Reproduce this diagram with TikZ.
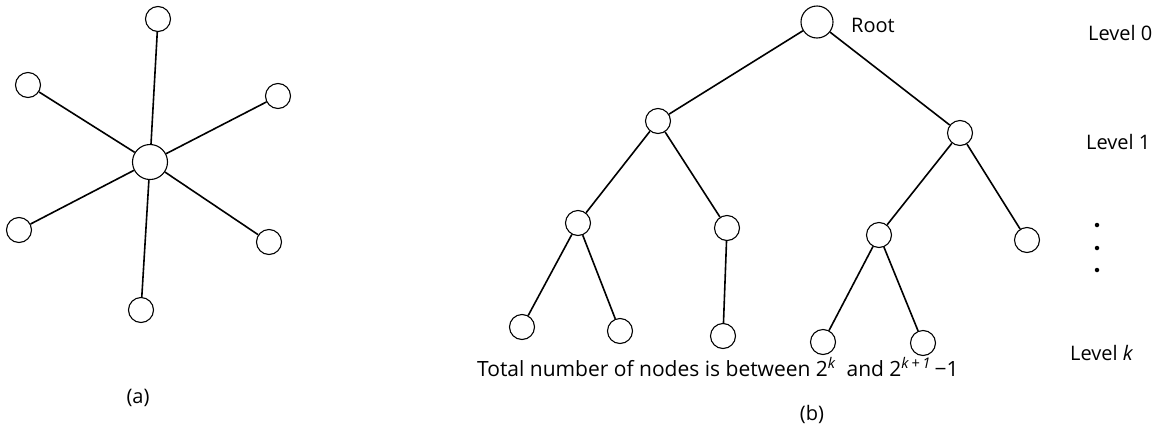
\documentclass[tikz,border=0pt]{standalone}
\usepackage{fontspec}
\setmainfont{Open Sans}
\begin{document}
\begin{tikzpicture}[x=1pt,y=-1pt,
  vtx/.style={circle,draw,line width=1.1pt,inner sep=0pt,minimum size=25pt},
  hub/.style={circle,draw,line width=1.1pt,inner sep=0pt,minimum size=35pt},
  rootv/.style={circle,draw,line width=1.1pt,inner sep=0pt,minimum size=32pt},
  edge/.style={line width=1.6pt},
  lbl/.style={inner sep=0pt,font=\fontsize{20}{24}\selectfont},
  dotv/.style={circle,fill,inner sep=0pt,minimum size=4.5pt}]
\useasboundingbox (0,0) rectangle (1165,429);
% (a) star
\node[hub] (c) at (150,162) {};
\node[vtx] (s1) at (158,19) {};
\node[vtx] (s2) at (28,85) {};
\node[vtx] (s3) at (278,96) {};
\node[vtx] (s4) at (19,230) {};
\node[vtx] (s5) at (269,242) {};
\node[vtx] (s6) at (141,310) {};
\foreach \s in {s1,s2,s3,s4,s5,s6} \draw[edge] (c) -- (\s);
\node[lbl] (la) at (138,398) {(a)};
% (b) tree
\node[rootv] (r) at (817,22) {};
\node[vtx] (a1) at (658,121) {};
\node[vtx] (a2) at (960,133) {};
\node[vtx] (b1) at (578,223) {};
\node[vtx] (b2) at (727,228) {};
\node[vtx] (b3) at (879,235) {};
\node[vtx] (b4) at (1027,240) {};
\node[vtx] (c1) at (522,327) {};
\node[vtx] (c2) at (620,331) {};
\node[vtx] (c3) at (723,336) {};
\node[vtx] (c4) at (823,342) {};
\node[vtx] (c5) at (923,343) {};
\draw[edge] (r) -- (a1);
\draw[edge] (r) -- (a2);
\draw[edge] (a1) -- (b1);
\draw[edge] (a1) -- (b2);
\draw[edge] (a2) -- (b3);
\draw[edge] (a2) -- (b4);
\draw[edge] (b1) -- (c1);
\draw[edge] (b1) -- (c2);
\draw[edge] (b2) -- (c3);
\draw[edge] (b3) -- (c4);
\draw[edge] (b3) -- (c5);
\node[lbl,anchor=west] (rt) at (851,25) {Root};
\node[lbl,anchor=west] (l0) at (1088,33) {Level 0};
\node[lbl,anchor=west] (l1) at (1086,142) {Level 1};
\node[dotv] (d1) at (1097,225) {};
\node[dotv] (d2) at (1097,248) {};
\node[dotv] (d3) at (1097,270) {};
\node[lbl,anchor=west] (lk) at (1070,353) {Level \textit{k}};
\node[lbl,anchor=west,font=\fontsize{21}{25}\selectfont] (tot) at (477,367) {Total number of nodes is between 2\textsuperscript{\textit{k}}\enspace and 2\textsuperscript{\textit{k}\,+\,\textit{1}}\,−1};
\node[lbl] (lb) at (812,414) {(b)};
\end{tikzpicture}
\end{document}
